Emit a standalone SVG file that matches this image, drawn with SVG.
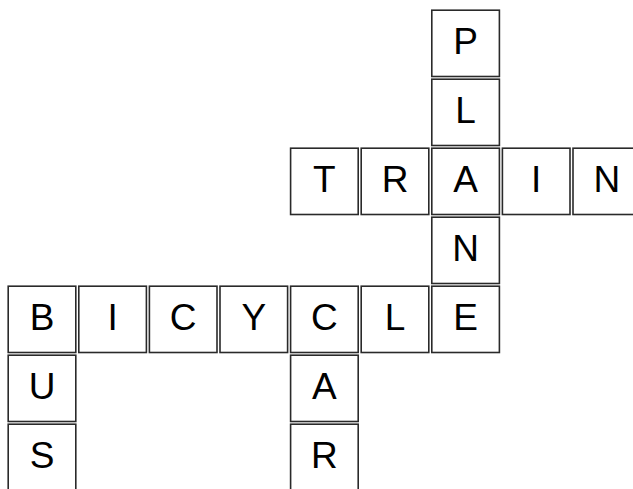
<svg xmlns="http://www.w3.org/2000/svg" width="633" height="489" viewBox="0 0 633 489">
<style>
.c rect{fill:#fff;stroke:#2a2a2a;stroke-width:1.6}
.c text{font-family:"Liberation Sans",Arial,sans-serif;font-size:37px;fill:#000;text-anchor:middle}
</style>
<rect width="633" height="489" fill="#fff"/>
<g id="connectors"/>
<g id="cell-P" class="c"><rect x="431.8" y="10.2" width="67.6" height="66.3"/><text x="465.6" y="54">P</text></g>
<g id="cell-L1" class="c"><rect x="431.8" y="79.2" width="67.6" height="66.3"/><text x="465.6" y="123">L</text></g>
<g id="cell-T" class="c"><rect x="290.6" y="148.2" width="67.6" height="66.3"/><text x="324.4" y="192">T</text></g>
<g id="cell-R1" class="c"><rect x="361.2" y="148.2" width="67.6" height="66.3"/><text x="395" y="192">R</text></g>
<g id="cell-A1" class="c"><rect x="431.8" y="148.2" width="67.6" height="66.3"/><text x="465.6" y="192">A</text></g>
<g id="cell-I1" class="c"><rect x="502.4" y="148.2" width="67.6" height="66.3"/><text x="536.2" y="192">I</text></g>
<g id="cell-N1" class="c"><rect x="573" y="148.2" width="67.6" height="66.3"/><text x="606.8" y="192">N</text></g>
<g id="cell-N2" class="c"><rect x="431.8" y="217.2" width="67.6" height="66.3"/><text x="465.6" y="261">N</text></g>
<g id="cell-B" class="c"><rect x="8.2" y="286.2" width="67.6" height="66.3"/><text x="42" y="330">B</text></g>
<g id="cell-I2" class="c"><rect x="78.8" y="286.2" width="67.6" height="66.3"/><text x="112.6" y="330">I</text></g>
<g id="cell-C1" class="c"><rect x="149.4" y="286.2" width="67.6" height="66.3"/><text x="183.2" y="330">C</text></g>
<g id="cell-Y" class="c"><rect x="220" y="286.2" width="67.6" height="66.3"/><text x="253.8" y="330">Y</text></g>
<g id="cell-C2" class="c"><rect x="290.6" y="286.2" width="67.6" height="66.3"/><text x="324.4" y="330">C</text></g>
<g id="cell-L2" class="c"><rect x="361.2" y="286.2" width="67.6" height="66.3"/><text x="395" y="330">L</text></g>
<g id="cell-E" class="c"><rect x="431.8" y="286.2" width="67.6" height="66.3"/><text x="465.6" y="330">E</text></g>
<g id="cell-U" class="c"><rect x="8.2" y="355.2" width="67.6" height="66.3"/><text x="42" y="399">U</text></g>
<g id="cell-S" class="c"><rect x="8.2" y="424.2" width="67.6" height="66.3"/><text x="42" y="468">S</text></g>
<g id="cell-A2" class="c"><rect x="290.6" y="355.2" width="67.6" height="66.3"/><text x="324.4" y="399">A</text></g>
<g id="cell-R2" class="c"><rect x="290.6" y="424.2" width="67.6" height="66.3"/><text x="324.4" y="468">R</text></g>
</svg>
